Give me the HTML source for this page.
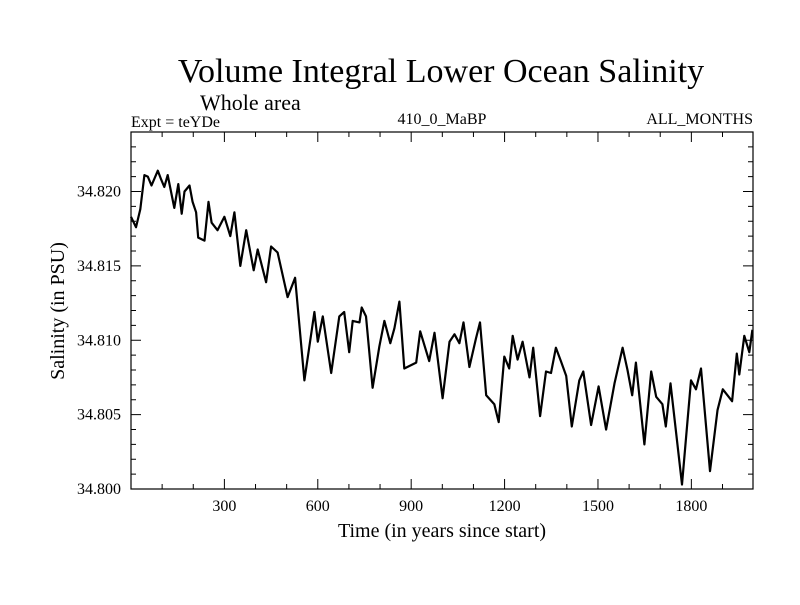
<!DOCTYPE html>
<html><head><meta charset="utf-8"><style>
body{margin:0;background:#fff}
svg text{font-family:"Liberation Serif",serif;fill:#000}
</style></head><body>
<svg id="chart" width="800" height="600" xmlns="http://www.w3.org/2000/svg">
<text x="441" y="82" font-size="34" text-anchor="middle">Volume Integral Lower Ocean Salinity</text>
<text x="200" y="110" font-size="22">Whole area</text>
<text x="131" y="127" font-size="16">Expt = teYDe</text>
<text x="442" y="124" font-size="16" text-anchor="middle">410_0_MaBP</text>
<text x="753" y="124" font-size="16" text-anchor="end">ALL_MONTHS</text>
<text x="442" y="537" font-size="20" text-anchor="middle">Time (in years since start)</text>
<text x="64" y="311" font-size="20" text-anchor="middle" transform="rotate(-90 64 311)">Salinity (in PSU)</text>
<rect x="131" y="132" width="622" height="357" fill="none" stroke="#000" stroke-width="1.2"/>
<g id="ticks"></g>
<path id="line" fill="none" stroke="#000" stroke-width="2.2" stroke-linejoin="round"/>
</svg>
<script>
const years=[0,16,30,43,54,66,86,97,107,118,139,152,163,172,188,198,209,216,236,249,259,278,300,319,332,351,370,394,407,434,450,471,503,527,557,589,600,616,643,669,685,701,712,734,741,755,776,798,814,833,846,862,878,916,929,958,975,1001,1023,1039,1055,1068,1087,1108,1121,1141,1167,1181,1199,1215,1226,1242,1258,1280,1292,1314,1333,1349,1365,1381,1398,1416,1440,1453,1478,1502,1526,1553,1579,1595,1610,1622,1649,1671,1687,1707,1718,1733,1770,1799,1815,1831,1860,1884,1901,1931,1946,1954,1970,1986,1996];
const salinity=[34.8183,34.8176,34.8188,34.8211,34.8210,34.8204,34.8214,34.8208,34.8203,34.8211,34.8189,34.8205,34.8185,34.8200,34.8204,34.8193,34.8186,34.8169,34.8167,34.8193,34.8179,34.8174,34.8183,34.8170,34.8186,34.8150,34.8174,34.8147,34.8161,34.8139,34.8163,34.8159,34.8129,34.8142,34.8073,34.8119,34.8099,34.8116,34.8078,34.8116,34.8119,34.8092,34.8113,34.8112,34.8122,34.8116,34.8068,34.8096,34.8113,34.8098,34.8108,34.8126,34.8081,34.8085,34.8106,34.8086,34.8105,34.8061,34.8099,34.8104,34.8098,34.8112,34.8082,34.8101,34.8112,34.8063,34.8057,34.8045,34.8089,34.8081,34.8103,34.8087,34.8099,34.8075,34.8095,34.8049,34.8079,34.8078,34.8095,34.8086,34.8076,34.8042,34.8073,34.8079,34.8043,34.8069,34.8040,34.8071,34.8095,34.8080,34.8063,34.8085,34.8030,34.8079,34.8062,34.8057,34.8042,34.8071,34.8003,34.8073,34.8067,34.8081,34.8012,34.8053,34.8067,34.8059,34.8091,34.8077,34.8103,34.8092,34.8107];
const xTicks=[300,600,900,1200,1500,1800];
const xTickLabels=["300","600","900","1200","1500","1800"];
const yTicks=[34.800,34.805,34.810,34.815,34.820];
const yTickLabels=["34.800","34.805","34.810","34.815","34.820"];
const X0=131,X1=753,Y0=489,Y1=132,XMIN=0,XMAX=1998,YMIN=34.800,YMAX=34.8240;
const sx=v=>X0+(v-XMIN)/(XMAX-XMIN)*(X1-X0);
const sy=v=>Y0-(v-YMIN)/(YMAX-YMIN)*(Y0-Y1);
const NS="http://www.w3.org/2000/svg";
const g=document.getElementById('ticks');
function ln(x1,y1,x2,y2,name){const l=document.createElementNS(NS,'line');
l.setAttribute('x1',x1);l.setAttribute('y1',y1);l.setAttribute('x2',x2);l.setAttribute('y2',y2);
l.setAttribute('stroke','#000');l.setAttribute('stroke-width','1');


g.appendChild(l);}
function tx(x,y,s,anchor,name){const t=document.createElementNS(NS,'text');
t.setAttribute('x',x);t.setAttribute('y',y);t.setAttribute('font-size','16');t.setAttribute('text-anchor',anchor);t.textContent=s;


g.appendChild(t);}
for(let v=100;v<XMAX;v+=100){const x=sx(v);const major=v%300===0;const L=major?10:5;
ln(x,Y0,x,Y0-L,'x-tick');ln(x,Y1,x,Y1+L,'x-tick-top');}
xTicks.forEach((v,i)=>tx(sx(v),Y0+22,xTickLabels[i],'middle','x-tick-label'));
for(let k=0;k<=24;k++){const v=YMIN+k*0.001;const y=sy(v);const major=k%5===0;const L=major?10:5;
ln(X0,y,X0+L,y,'y-tick');ln(X1,y,X1-L,y,'y-tick-right');}
yTicks.forEach((v,i)=>tx(X0-10,sy(v)+5,yTickLabels[i],'end','y-tick-label'));
document.getElementById('line').setAttribute('d',years.map((y,i)=>(i?'L':'M')+sx(y).toFixed(1)+','+sy(salinity[i]).toFixed(1)).join(''));
</script>
</body></html>
